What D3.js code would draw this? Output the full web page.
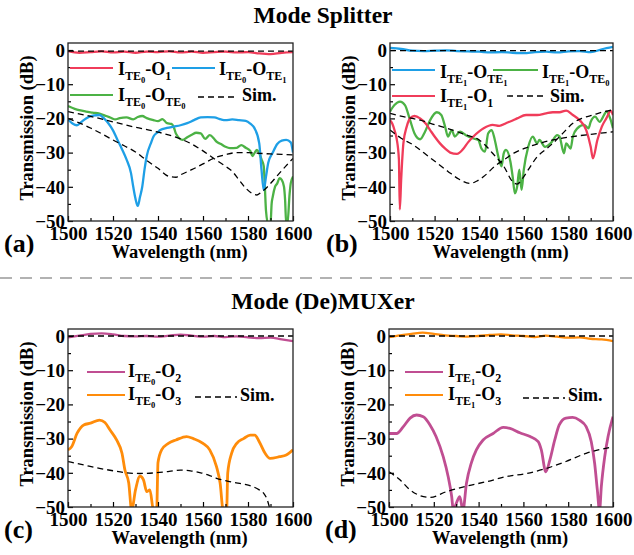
<!DOCTYPE html>
<html><head><meta charset="utf-8">
<script src="https://cdn.jsdelivr.net/npm/d3@7"></script>
<style>
body{margin:0;background:#fff}
</style>
</head><body>
<svg id="chart" width="634" height="555"></svg>
<script>
// ---------- tick labels ----------
const xTicks = [1500, 1520, 1540, 1560, 1580, 1600];
const yTicks = [0, -10, -20, -30, -40, -50];

// ---------- panel (a): Mode Splitter, TE0 input ----------
const a_O1 = [[1500,-0.3],[1505,-0.8],[1510,-0.6],[1515,-0.4],[1520,-0.7],[1525,-0.5],[1530,-0.8],[1535,-0.5],[1540,-0.6],[1545,-0.4],[1550,-0.7],[1555,-0.5],[1560,-0.8],[1565,-0.6],[1570,-0.5],[1575,-0.7],[1580,-0.6],[1585,-1.0],[1590,-1.2],[1595,-0.8],[1600,-0.6]];
const a_OTE1 = [[1500,-20.3],[1502,-21.5],[1504,-22],[1506,-21],[1508,-20],[1511,-19.2],[1514,-19],[1516,-20],[1518,-21.5],[1520,-23.5],[1522,-26.3],[1524,-29],[1526,-32],[1528,-36],[1529,-40],[1530,-43.5],[1531,-45.6],[1532,-43],[1533,-40],[1534,-35],[1535,-31],[1537,-27],[1538,-25.3],[1540,-24],[1541,-23.4],[1544,-22.8],[1547,-22.4],[1550,-22],[1553,-21.4],[1556,-20.5],[1559,-19.7],[1562,-19.6],[1565,-19.7],[1568,-20.3],[1570,-20.5],[1573,-20.3],[1576,-20.5],[1579,-20.7],[1581,-21.5],[1583,-23],[1585,-27.3],[1586,-35],[1587,-41],[1588,-37],[1589,-33],[1591,-30],[1593,-27.5],[1595,-26.5],[1597,-26.3],[1599,-27],[1600,-30]];
const a_OTE0 = [[1500,-16.4],[1503,-17.2],[1505,-17.6],[1508,-18],[1511,-18.3],[1514,-18.6],[1517,-19.3],[1519,-19.8],[1521,-20.3],[1523,-19.9],[1526,-19.7],[1529,-20.3],[1531,-19.6],[1533,-19.3],[1535,-19.9],[1538,-20.5],[1540,-20.8],[1542,-20.2],[1544,-21.4],[1546,-21.6],[1547,-22.5],[1548,-24.5],[1551,-26.3],[1553,-25.5],[1555,-24.8],[1557,-24.2],[1559,-24.4],[1561,-26],[1563,-24.9],[1565,-26],[1566,-26.8],[1568,-27.5],[1570,-28.3],[1572,-28.7],[1575,-28.6],[1577,-27.8],[1579,-28.6],[1581,-29.5],[1582,-31],[1583,-30],[1584,-29.2],[1585,-30.2],[1586,-32],[1587,-34],[1587.5,-40],[1588,-47],[1589,-51],[1590,-51],[1590.5,-45],[1591,-42.9],[1592,-40],[1593,-39],[1594,-37.5],[1595,-38],[1596,-40],[1596.5,-44],[1597,-51],[1597.5,-51],[1598.5,-42],[1599,-39],[1600,-37]];
const a_simO1 = [[1500,-0.3],[1600,-0.3]];
const a_simA = [[1500,-20],[1505,-21.3],[1510,-22.8],[1515,-24.5],[1520,-26.3],[1525,-28],[1530,-29.8],[1535,-32.3],[1540,-34.6],[1545,-37],[1548,-37.2],[1550,-36.5],[1555,-35],[1560,-33.3],[1565,-31.6],[1570,-30.6],[1575,-30],[1580,-30],[1585,-30.2],[1590,-30.4],[1595,-30.5],[1600,-30.7]];
const a_simB = [[1500,-18],[1510,-19.4],[1520,-21],[1530,-22.6],[1540,-24],[1550,-26],[1555,-27.5],[1560,-29.5],[1565,-31.8],[1570,-34],[1573,-35.5],[1576,-38],[1579,-40.4],[1582,-42],[1584,-42.4],[1586,-41.5],[1588,-40.4],[1591,-38.3],[1594,-36],[1597,-33.8],[1600,-31.7]];

// ---------- panel (b): Mode Splitter, TE1 input ----------
const b_OTE1 = [[1500,0.6],[1505,0.3],[1510,-0.2],[1515,-0.3],[1520,-0.2],[1525,-0.1],[1530,-0.3],[1535,-0.4],[1540,-0.5],[1545,-0.7],[1550,-0.6],[1555,-0.8],[1560,-0.9],[1565,-0.6],[1570,-0.5],[1575,-0.7],[1580,-0.4],[1585,-0.3],[1590,-0.6],[1595,0.2],[1600,0.9]];
const b_OTE0 = [[1500,-18],[1502,-16.1],[1504.5,-15.1],[1506.7,-16.1],[1509,-20.5],[1511,-24.4],[1513.5,-26.1],[1515.7,-23.9],[1518,-20.5],[1521,-18.2],[1523,-19],[1524.7,-22.4],[1526,-25.3],[1527.7,-23.4],[1529,-25.3],[1531.4,-23.9],[1534,-24.9],[1537,-25.8],[1539.6,-26.3],[1541,-28.8],[1542.6,-29.7],[1544,-24.4],[1545.6,-23.4],[1547,-26.3],[1548.6,-31.2],[1550,-34],[1551,-30.2],[1552,-29.2],[1554,-32.7],[1555,-37],[1556,-41.9],[1557,-40],[1558,-35],[1559,-40.9],[1560,-35],[1562,-28.3],[1564,-25.3],[1566,-27.3],[1567,-26.3],[1569.5,-28.3],[1572,-27.3],[1575,-24.9],[1576,-25.3],[1578,-30.2],[1579,-27.3],[1581,-28.8],[1582,-25.3],[1584,-22.9],[1587,-21.9],[1589,-22.9],[1590,-21],[1592,-19.5],[1594,-21],[1596,-19],[1597,-18],[1599,-20.5],[1600,-22.9]];
const b_O1 = [[1500,-20.5],[1501,-21.5],[1502,-23.4],[1503,-26],[1504,-32],[1504.4,-46.6],[1505,-38],[1506,-27.3],[1507.5,-22.4],[1509,-20],[1511,-19.3],[1513.5,-20],[1516,-21.5],[1518,-23.4],[1520,-25.3],[1522.4,-27.3],[1525,-29],[1527,-30],[1530,-30.4],[1533,-28.8],[1535,-27],[1537.4,-25.3],[1540,-23.8],[1542,-22.9],[1546,-21.9],[1549,-22.2],[1552,-21.4],[1555,-20.6],[1557,-20],[1561,-19],[1566,-19],[1570,-18.5],[1573,-18.2],[1576,-18.2],[1579,-17.7],[1582,-19],[1585,-20.5],[1588,-23.4],[1590,-28.3],[1591,-31.7],[1593,-26.3],[1595,-22.4],[1597,-20],[1599,-17.8],[1600,-19]];
const b_simO1 = [[1500,-0.2],[1600,-0.2]];
const b_simA = [[1500,-23.4],[1505,-25.8],[1510.5,-27.8],[1516,-30.5],[1521,-33],[1526,-35.5],[1531,-37.8],[1536,-39],[1539,-38.3],[1542,-37],[1547,-34],[1552,-31.7],[1556,-30],[1561,-28.6],[1567,-27.3],[1573,-26.3],[1582,-25.3],[1591,-24.6],[1600,-23.9]];
const b_simB = [[1500,-18.5],[1506,-19.5],[1513.5,-20.5],[1520,-21.8],[1528,-23.4],[1534,-24.8],[1540,-26.3],[1543,-28],[1546,-30.2],[1551,-34],[1555,-38.5],[1557,-39.2],[1560,-37],[1563,-34],[1566,-31.2],[1570,-29],[1573,-27.3],[1578,-24],[1582,-21.4],[1586,-20],[1591,-19],[1595,-18.2],[1600,-17.5]];

// ---------- panel (c): Mode (De)MUXer, TE0 input ----------
const c_O2 = [[1500,-0.4],[1505,0.1],[1510,0.6],[1515,0.8],[1520,0.5],[1525,0.0],[1530,-0.1],[1535,0.0],[1540,-0.2],[1545,0.1],[1550,0.4],[1555,0.1],[1560,-0.2],[1565,0.0],[1570,-0.3],[1575,-0.1],[1580,-0.4],[1585,-0.6],[1590,-0.5],[1595,-1.0],[1600,-1.5]];
const c_O3 = [[1500,-33.3],[1501.6,-32.4],[1504,-28.5],[1507,-26],[1510,-25.5],[1514,-24.6],[1516.4,-25.3],[1518.7,-27.5],[1521.6,-30.4],[1524,-34.3],[1525.3,-39.2],[1527,-43],[1528.3,-51],[1530,-45],[1532,-41],[1533.5,-42],[1535,-45.5],[1536.4,-45],[1538,-51],[1539.4,-51],[1540,-37],[1541.6,-33.3],[1544.6,-31.4],[1548,-30.4],[1552.7,-29.4],[1555.7,-30],[1560,-31.4],[1563,-33.3],[1566,-38.2],[1567.6,-43],[1569,-51],[1570.5,-51],[1571,-40],[1572.7,-34.3],[1575,-31.4],[1578,-30],[1581,-29],[1583,-29],[1585,-30.9],[1587.6,-34.3],[1589.8,-35.8],[1594,-35.3],[1597,-34.8],[1600,-33.3]];
const c_simO2 = [[1500,0],[1600,0]];
const c_simO3 = [[1500,-36.7],[1507,-37.7],[1514,-38.7],[1520,-39.4],[1526,-40],[1532,-40.2],[1539,-40],[1545,-39.6],[1550,-39.2],[1555,-39.5],[1559,-40],[1563,-40.8],[1566,-41.6],[1570,-42.3],[1573.5,-42.8],[1578,-43.3],[1582,-44],[1585,-45],[1587,-46],[1588.5,-47.8],[1589.5,-50]];

// ---------- panel (d): Mode (De)MUXer, TE1 input ----------
const d_O2 = [[1500,-28.5],[1503.4,-28.5],[1506.4,-26.5],[1509.4,-24],[1512.3,-23.1],[1515.3,-23.6],[1518.3,-26],[1521,-29.4],[1524.2,-35.3],[1526.4,-41.1],[1528,-47],[1528.7,-51],[1530,-49],[1531.6,-47],[1533,-51],[1534.6,-43],[1536.8,-37],[1539,-33.3],[1542,-30.4],[1546.5,-28.5],[1551,-26.7],[1554,-27],[1558.4,-28.3],[1563,-29.4],[1566.6,-30.9],[1568,-33.3],[1570,-39.7],[1571.8,-36.3],[1574,-30.4],[1576,-26],[1579,-24],[1582,-23.8],[1585,-24.6],[1588,-26.5],[1590.3,-30.9],[1591.8,-37.2],[1593,-45],[1594,-51],[1594.8,-44],[1596.3,-35.3],[1597.8,-29.4],[1600,-23.6]];
const d_O3 = [[1500,-0.3],[1505,0.2],[1510,0.6],[1515,1.0],[1520,0.6],[1525,0.2],[1530,0.0],[1535,-0.2],[1540,0.0],[1545,0.3],[1550,0.5],[1555,0.2],[1560,0.0],[1565,-0.3],[1570,0.1],[1575,-0.2],[1580,-0.5],[1585,-0.4],[1590,-0.8],[1595,-1.0],[1600,-1.5]];
const d_simO3 = [[1500,0],[1600,0]];
const d_simO2 = [[1500,-39.7],[1505,-42.1],[1509.4,-45],[1514,-46.7],[1518.3,-47.2],[1525.7,-45.5],[1534.6,-43.9],[1543.5,-42.6],[1552.5,-41.1],[1561.4,-40.2],[1570.3,-38.7],[1579,-36.7],[1588,-34.3],[1600,-32.4]];

// ---------- legend labels: [text, level] level 0 normal, 1 subscript, 2 sub-subscript ----------
const lab_a1 = [["I",0],["TE",1],["0",2],["-O",0],["1",1]];
const lab_a2 = [["I",0],["TE",1],["0",2],["-O",0],["TE",1],["1",2]];
const lab_a3 = [["I",0],["TE",1],["0",2],["-O",0],["TE",1],["0",2]];
const lab_b1 = [["I",0],["TE",1],["1",2],["-O",0],["TE",1],["1",2]];
const lab_b2 = [["I",0],["TE",1],["1",2],["-O",0],["TE",1],["0",2]];
const lab_b3 = [["I",0],["TE",1],["1",2],["-O",0],["1",1]];
const lab_c1 = [["I",0],["TE",1],["0",2],["-O",0],["2",1]];
const lab_c2 = [["I",0],["TE",1],["0",2],["-O",0],["3",1]];
const lab_d1 = [["I",0],["TE",1],["1",2],["-O",0],["2",1]];
const lab_d2 = [["I",0],["TE",1],["1",2],["-O",0],["3",1]];
const lab_sim = [["Sim.",0]];

const RED = "#F03C5A", BLUE = "#1E9FE6", GREEN = "#4CB245", MAG = "#C04E92", ORANGE = "#FF8C0A";
const FONT = '"Liberation Serif"';

const svg = d3.select("#chart");
let clipId = 0;

function txt(sel) { return sel.style("font-family", FONT).style("font-weight", "bold").attr("fill", "#000"); }

function panel(L, R, T, B, letter, series, legend) {
  const x = d3.scaleLinear().domain([1500, 1600]).range([L, R]);
  const y = d3.scaleLinear().domain([-50, 2.05]).range([B, T]);
  const g = svg.append("g");
  const id = "clip" + (clipId++);
  g.append("clipPath").attr("id", id).append("rect")
    .attr("x", L).attr("y", T).attr("width", R - L).attr("height", B - T);
  const plot = g.append("g").attr("clip-path", `url(#${id})`);
  const line = d3.line().x(d => x(d[0])).y(d => y(d[1])).curve(d3.curveMonotoneX);
  series.filter(s => !s.dash).forEach(s => {
    plot.append("path").attr("d", line(s.data)).attr("fill", "none")
      .attr("stroke", s.color).attr("stroke-width", s.w || 2.3).attr("stroke-linejoin", "round");
  });
  series.filter(s => s.dash).forEach(s => {
    plot.append("path").attr("d", line(s.data)).attr("fill", "none")
      .attr("stroke", "#000").attr("stroke-width", 1.3).attr("stroke-dasharray", "6,4");
  });

  // axes with inward ticks
  const yAx = d3.axisLeft(y).tickValues(yTicks).tickSize(-5).tickPadding(8).tickFormat(d3.format("d"));
  const yMinor = d3.axisLeft(y).tickValues([-5, -15, -25, -35, -45]).tickSize(-3).tickFormat("");
  const xAx = d3.axisBottom(x).tickValues(xTicks).tickSize(-5).tickPadding(9).tickFormat(d3.format("d"));
  const xMinor = d3.axisBottom(x).tickValues([1510, 1530, 1550, 1570, 1590]).tickSize(-3).tickFormat("");
  const gy = g.append("g").attr("transform", `translate(${L},0)`).call(yAx);
  g.append("g").attr("transform", `translate(${L},0)`).call(yMinor);
  const gx = g.append("g").attr("transform", `translate(0,${B})`).call(xAx);
  g.append("g").attr("transform", `translate(0,${B})`).call(xMinor);
  g.selectAll(".domain").remove();
  g.selectAll(".tick line").attr("stroke", "#000").attr("stroke-width", 1.2);
  txt(g.selectAll(".tick text")).style("font-size", "19px");
  gy.selectAll(".tick text").attr("dy", "0.33em").attr("x", -3);
  gx.selectAll(".tick text").attr("dy", "0.71em").attr("y", 6);
  g.append("rect").attr("x", L).attr("y", T).attr("width", R - L).attr("height", B - T)
    .attr("fill", "none").attr("stroke", "#222").attr("stroke-width", 1.3);

  txt(g.append("text")).attr("x", (L + R) / 2 - 1).attr("y", B + 37).attr("text-anchor", "middle")
    .style("font-size", "18.5px").text("Wavelength (nm)");
  txt(g.append("text")).attr("transform", `translate(${L - 35},${(T + B) / 2 - 4}) rotate(-90)`)
    .attr("text-anchor", "middle").style("font-size", "18.5px").text("Transmission (dB)");
  txt(g.append("text")).attr("x", L - 64).attr("y", B + 31).style("font-size", "26px").text(letter);

  legend.forEach(it => {
    if (it.line) {
      g.append("line").attr("x1", it.line[0]).attr("x2", it.line[1]).attr("y1", it.line[2]).attr("y2", it.line[2])
        .attr("stroke", it.color || "#000").attr("stroke-width", it.dash ? 1.3 : 2.2)
        .attr("stroke-dasharray", it.dash ? "6,4" : null);
    }
    drawLabel(g, it.tx, it.ty, it.label);
  });
}

function drawLabel(g, x, y, parts) {
  const sizes = [18, 12, 8.5], offs = [0, 4.5, 7.5];
  const t = txt(g.append("text")).attr("x", x).attr("y", y);
  let cur = 0;
  parts.forEach(p => {
    const lv = p[1];
    t.append("tspan").attr("dy", offs[lv] - cur).style("font-size", sizes[lv] + "px").text(p[0]);
    cur = offs[lv];
  });
}

// panel a
panel(68, 293, 43, 221, "(a)", [
  {data: a_O1, color: RED},
  {data: a_OTE0, color: GREEN},
  {data: a_OTE1, color: BLUE},
  {data: a_simO1, dash: true},
  {data: a_simA, dash: true},
  {data: a_simB, dash: true}
], [
  {line: [70, 113, 68], color: RED, tx: 118, ty: 75, label: lab_a1},
  {line: [172, 215, 68], color: BLUE, tx: 219, ty: 75, label: lab_a2},
  {line: [70, 113, 95], color: GREEN, tx: 118, ty: 101, label: lab_a3},
  {line: [198, 237, 97], dash: true, tx: 242, ty: 101, label: lab_sim}
]);

// panel b
panel(390, 613, 43, 221, "(b)", [
  {data: b_OTE1, color: BLUE},
  {data: b_OTE0, color: GREEN},
  {data: b_O1, color: RED},
  {data: b_simO1, dash: true},
  {data: b_simA, dash: true},
  {data: b_simB, dash: true}
], [
  {line: [392, 435, 70], color: BLUE, tx: 440, ty: 78, label: lab_b1},
  {line: [493, 538, 70], color: GREEN, tx: 542, ty: 78, label: lab_b2},
  {line: [392, 435, 96], color: RED, tx: 440, ty: 102, label: lab_b3},
  {line: [507, 545, 96], dash: true, tx: 550, ty: 102, label: lab_sim}
]);

// panel c
panel(68, 293, 329, 507, "(c)", [
  {data: c_O2, color: MAG},
  {data: c_O3, color: ORANGE, w: 2.8},
  {data: c_simO2, dash: true},
  {data: c_simO3, dash: true}
], [
  {line: [87, 125, 372], color: MAG, tx: 128, ty: 377, label: lab_c1},
  {line: [87, 125, 395], color: ORANGE, tx: 128, ty: 400, label: lab_c2},
  {line: [195, 237, 397], dash: true, tx: 240, ty: 401, label: lab_sim}
]);

// panel d
panel(389, 613, 329, 507, "(d)", [
  {data: d_O3, color: ORANGE},
  {data: d_O2, color: MAG, w: 2.8},
  {data: d_simO3, dash: true},
  {data: d_simO2, dash: true}
], [
  {line: [405, 443, 372], color: MAG, tx: 448, ty: 377, label: lab_d1},
  {line: [405, 443, 395], color: ORANGE, tx: 448, ty: 400, label: lab_d2},
  {line: [523, 565, 398], dash: true, tx: 568, ty: 401, label: lab_sim}
]);

// titles and divider
txt(svg.append("text")).attr("x", 323).attr("y", 23).attr("text-anchor", "middle").style("font-size", "23.5px").text("Mode Splitter");
txt(svg.append("text")).attr("x", 323).attr("y", 309).attr("text-anchor", "middle").style("font-size", "23.5px").text("Mode (De)MUXer");
svg.append("line").attr("x1", 0).attr("x2", 634).attr("y1", 278).attr("y2", 278)
  .attr("stroke", "#999").attr("stroke-width", 1.5).attr("stroke-dasharray", "12,8");
</script>
</body></html>
